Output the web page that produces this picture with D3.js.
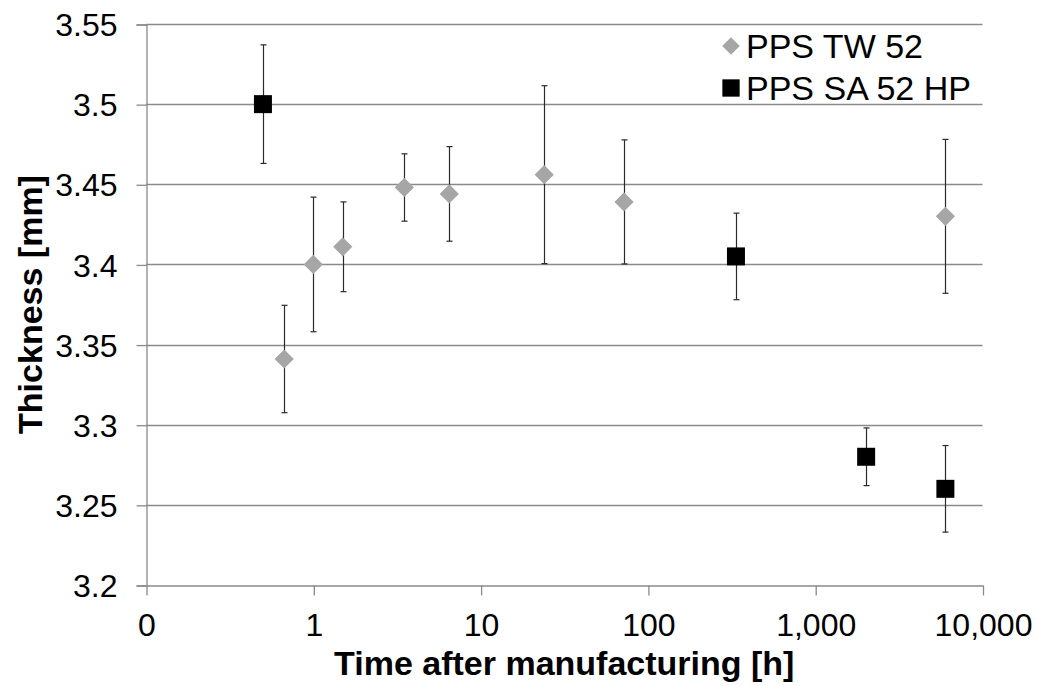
<!DOCTYPE html>
<html>
<head>
<meta charset="utf-8">
<script src="https://cdn.jsdelivr.net/npm/d3@7"></script>
<style>
  html, body { margin: 0; padding: 0; background: #fff; }
  svg { display: block; }
  text { font-family: "Liberation Sans", Arial, sans-serif; }
</style>
</head>
<body>
<svg id="chart" width="1038" height="686"></svg>
<script>
// ---- data ----
const seriesNames = ["PPS TW 52", "PPS SA 52 HP"];
const twTimes  = [0.67, 1, 1.5, 3.5, 6.5, 24, 72, 6000];
const twValues = [3.341, 3.400, 3.411, 3.448, 3.444, 3.456, 3.439, 3.430];
const twErrors = [0.0335, 0.042, 0.028, 0.021, 0.0295, 0.0555, 0.0387, 0.048];
const saTimes  = [0.5, 336, 2016, 6000];
const saValues = [3.500, 3.405, 3.280, 3.260];
const saErrors = [0.037, 0.027, 0.018, 0.027];
const xTickValues = [0.1, 1, 10, 100, 1000, 10000];
const xTickLabels = ["0", "1", "10", "100", "1,000", "10,000"];
const yTickValues = [3.2, 3.25, 3.3, 3.35, 3.4, 3.45, 3.5, 3.55];
const yTickLabels = ["3.2", "3.25", "3.3", "3.35", "3.4", "3.45", "3.5", "3.55"];
const xTitle = "Time after manufacturing [h]";
const yTitle = "Thickness [mm]";

// ---- layout ----
const svg = d3.select("#chart");
svg.append("rect").attr("width", 1038).attr("height", 686).attr("fill", "#fff");

const x = d3.scaleLog().domain([0.1, 10000]).range([146, 982.5]);
const y = d3.scaleLinear().domain([3.2, 3.55]).range([585, 24]);

const gridColor = "#8a8a8a";

// gridlines
svg.append("g")
  .selectAll("line")
  .data(yTickValues.slice(1))
  .join("line")
  .attr("x1", x.range()[0]).attr("x2", x.range()[1])
  .attr("y1", d => Math.round(y(d)) + 0.5).attr("y2", d => Math.round(y(d)) + 0.5)
  .attr("stroke", gridColor).attr("stroke-width", 1.3);

// y axis
const yAxis = svg.append("g")
  .attr("transform", `translate(${x.range()[0] + 0.5},0.5)`)
  .call(d3.axisLeft(y).tickValues(yTickValues)
        .tickFormat((d, i) => yTickLabels[i]).tickSize(10).tickPadding(19));
yAxis.select(".domain").attr("stroke", gridColor).attr("stroke-width", 1.3);
yAxis.selectAll(".tick line").attr("stroke", gridColor).attr("stroke-width", 1.3);
yAxis.selectAll(".tick text")
  .attr("font-size", 32).attr("fill", "#000").attr("dy", "0.35em")
  .style("font-family", "'Liberation Sans', Arial, sans-serif");

// x axis
const xAxis = svg.append("g")
  .attr("transform", `translate(0.5,${y.range()[0] + 0.5})`)
  .call(d3.axisBottom(x).tickValues(xTickValues)
        .tickFormat((d, i) => xTickLabels[i]).tickSize(10).tickSizeOuter(0).tickPadding(18));
xAxis.select(".domain").attr("stroke", gridColor).attr("stroke-width", 1.3);
xAxis.selectAll(".tick line").attr("stroke", gridColor).attr("stroke-width", 1.3);
xAxis.selectAll(".tick text")
  .attr("font-size", 32).attr("fill", "#000").attr("dy", "0.71em")
  .style("font-family", "'Liberation Sans', Arial, sans-serif");

// titles
svg.append("text")
  .attr("x", (x.range()[0] + x.range()[1]) / 2).attr("y", 675)
  .attr("text-anchor", "middle").attr("font-size", 34).attr("font-weight", "bold")
  .text(xTitle);
svg.append("text")
  .attr("transform", `translate(41.5,${(y.range()[0] + y.range()[1]) / 2}) rotate(-90)`)
  .attr("text-anchor", "middle").attr("font-size", 34).attr("font-weight", "bold")
  .text(yTitle);

// series
const tw = twTimes.map((t, i) => ({t, v: twValues[i], e: twErrors[i]}));
const sa = saTimes.map((t, i) => ({t, v: saValues[i], e: saErrors[i]}));

function errorBars(data) {
  const g = svg.append("g").attr("stroke", "#2a2a2a").attr("stroke-width", 1.2);
  data.forEach(d => {
    const cx = Math.round(x(d.t)) + 0.5;
    const y1 = y(d.v + d.e), y2 = y(d.v - d.e);
    g.append("line").attr("x1", cx).attr("x2", cx).attr("y1", y1).attr("y2", y2);
    g.append("line").attr("x1", cx - 3).attr("x2", cx + 3).attr("y1", y1).attr("y2", y1);
    g.append("line").attr("x1", cx - 3).attr("x2", cx + 3).attr("y1", y2).attr("y2", y2);
  });
}
errorBars(tw);
errorBars(sa);

const diamond = d3.symbol(d3.symbolSquare, 185);
const square = d3.symbol(d3.symbolSquare, 324);

svg.append("g").selectAll("path").data(tw).join("path")
  .attr("d", diamond)
  .attr("transform", d => `translate(${x(d.t)},${y(d.v)}) rotate(45)`)
  .attr("fill", "#a6a6a6");

svg.append("g").selectAll("path").data(sa).join("path")
  .attr("d", square)
  .attr("transform", d => `translate(${x(d.t)},${y(d.v)})`)
  .attr("fill", "#000");

// legend
const legend = svg.append("g");
legend.append("path").attr("d", d3.symbol(d3.symbolSquare, 155))
  .attr("transform", "translate(731,46) rotate(45)").attr("fill", "#a6a6a6");
legend.append("text").attr("x", 746).attr("y", 58).attr("font-size", 34).text(seriesNames[0]);
legend.append("path").attr("d", d3.symbol(d3.symbolSquare, 300))
  .attr("transform", "translate(731,88)").attr("fill", "#000");
legend.append("text").attr("x", 746).attr("y", 100).attr("font-size", 34).text(seriesNames[1]);
</script>
</body>
</html>
